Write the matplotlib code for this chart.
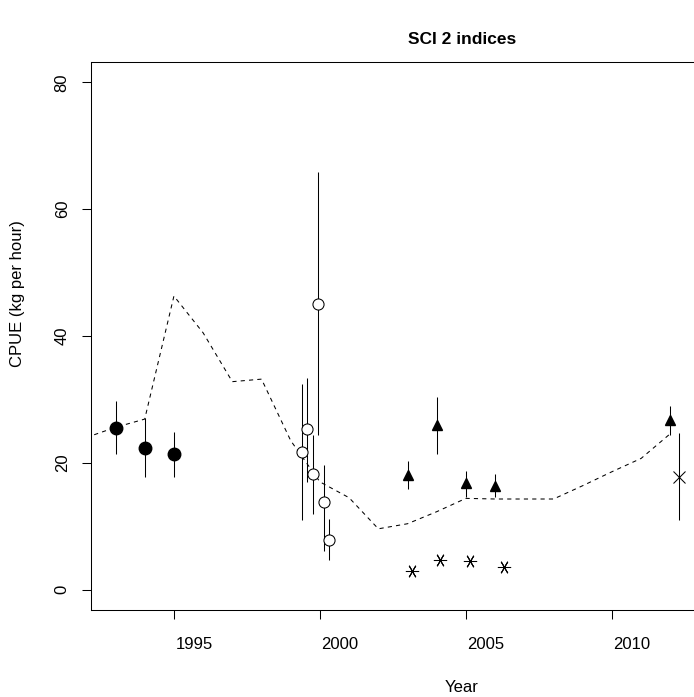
import numpy as np
import matplotlib
matplotlib.use("Agg")
import matplotlib.pyplot as plt
from matplotlib.transforms import ScaledTranslation

plt.rcParams['font.family'] = ['Liberation Sans', 'DejaVu Sans']

# dashed index line
line_years = list(range(1992, 2013))
line_cpue = [24.0, 25.6, 26.9, 46.3, 40.5, 32.8, 33.2, 23.5, 17.0, 14.5, 9.6,
             10.4, 12.3, 14.4, 14.3, 14.3, 14.3, 16.4, 18.6, 20.7, 24.6]

# filled circles
fc_years = [1993, 1994, 1995]
fc_cpue = [25.5, 22.4, 21.4]
fc_lo = [21.4, 17.8, 17.8]
fc_hi = [29.7, 27.0, 24.8]

# open circles
oc_years = [1999.4, 1999.55, 1999.77, 1999.92, 2000.15, 2000.3]
oc_cpue = [21.7, 25.3, 18.3, 45.1, 13.8, 7.8]
oc_lo = [11.0, 17.0, 12.0, 24.4, 6.1, 4.7]
oc_hi = [32.5, 33.4, 24.4, 65.8, 19.6, 11.1]

# triangles
tr_years = [2003, 2004, 2005, 2006, 2012]
tr_cpue = [18.1, 25.9, 16.9, 16.3, 26.7]
tr_lo = [15.8, 21.4, 14.6, 14.6, 24.4]
tr_hi = [20.3, 30.4, 18.7, 18.2, 29.0]

# asterisks (no bars)
st_years = [2003.15, 2004.1, 2005.15, 2006.3]
st_cpue = [2.9, 4.7, 4.5, 3.6]

# cross
cx_years = [2012.3]
cx_cpue = [17.7]
cx_lo = [11.0]
cx_hi = [24.7]

xticks = [1995, 2000, 2005, 2010]
yticks = [0, 20, 40, 60, 80]

W, H = 694, 697
fig = plt.figure(figsize=(W / 100, H / 100), dpi=100)
# plot region runs past the right edge of the picture
ax = fig.add_axes([90.7 / W, 87 / H, (833 - 90.7) / W, (610 - 62) / H])

lw = 0.75
ax.plot(line_years, line_cpue, color='black', lw=lw, dashes=(4, 4))

def bars(x, lo, hi):
    ax.vlines(x, lo, hi, color='black', lw=lw)

bars(fc_years, fc_lo, fc_hi)
ax.plot(fc_years, fc_cpue, 'o', color='black', ms=9, ls='none')

bars(oc_years, oc_lo, oc_hi)
ax.plot(oc_years, oc_cpue, 'o', mfc='white', mec='black', mew=lw, ms=8, ls='none')

bars(tr_years, tr_lo, tr_hi)
ax.plot(tr_years, tr_cpue, '^', color='black', ms=7.5, ls='none')

ax.plot(st_years, st_cpue, marker=(6, 2, 90), color='black', mew=lw, ms=9.5, ls='none')

bars(cx_years, cx_lo, cx_hi)
ax.plot(cx_years, cx_cpue, 'x', color='black', mew=lw, ms=9, ls='none')

ax.set_xlim(1992.15, 1992.15 + (833 - 90.7) / 29.2)
ax.set_ylim(-3.2, 83.2)

for s in ax.spines.values():
    s.set_linewidth(lw)

ax.set_xticks(xticks)
ax.set_xticklabels([str(t) for t in xticks], fontsize=12)
ax.set_yticks(yticks)
ax.set_yticklabels([str(t) for t in yticks], fontsize=12, rotation=90, va='center', ha='center')
ax.tick_params(axis='both', direction='out', length=6.5, width=lw)
ax.tick_params(axis='x', pad=13)
ax.tick_params(axis='y', pad=14)

# labels sit to the right of the ticks in the original
off = ScaledTranslation(20 / 100, 0, fig.dpi_scale_trans)
for lab in ax.get_xticklabels():
    lab.set_transform(lab.get_transform() + off)

ax.set_title('SCI 2 indices', fontsize=12.5, fontweight='bold', pad=13)
fig.text(462 / W, 1 - 688 / H, 'Year', fontsize=12, ha='center', va='center')
fig.text(18 / W, 1 - 294 / H, 'CPUE (kg per hour)', fontsize=12, ha='center', va='center', rotation=90)

fig.savefig('out.png', dpi=100)
